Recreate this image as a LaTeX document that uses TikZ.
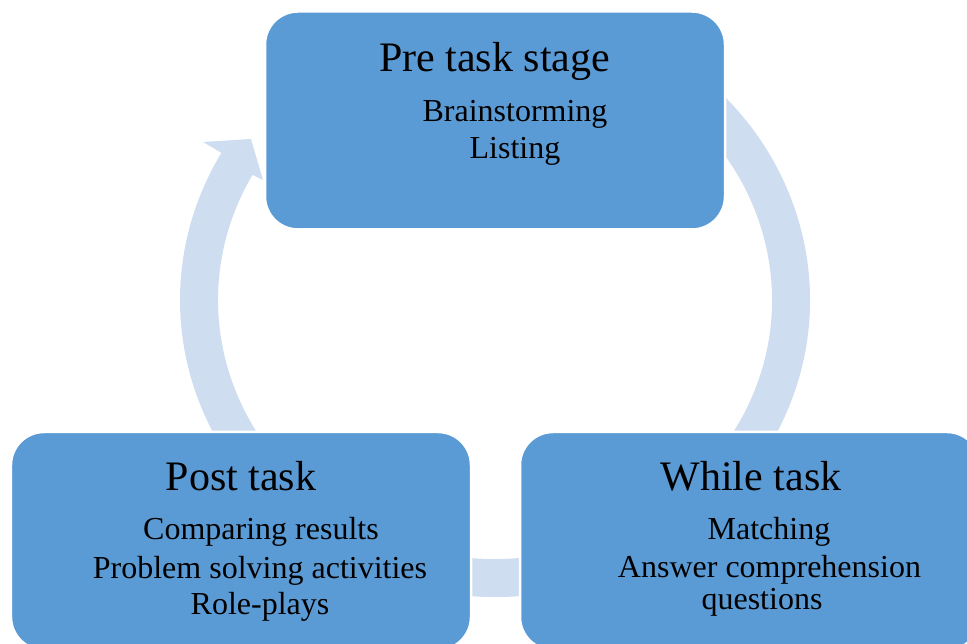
\documentclass[tikz,border=0pt]{standalone}
\usepackage{fontspec}
\setmainfont{Liberation Serif}
\definecolor{boxblue}{RGB}{91,155,213}
\definecolor{ringblue}{RGB}{206,221,239}
\begin{document}
\begin{tikzpicture}[x=1bp,y=1bp,
  stagebox/.style={draw=white,line width=2.5bp,fill=boxblue,rounded corners=33bp,
    minimum width=460bp,minimum height=218bp,inner sep=0pt},
  titletxt/.style={anchor=base,inner sep=0pt,font=\fontsize{42bp}{46bp}\selectfont},
  bodytxt/.style={anchor=base,inner sep=0pt,font=\fontsize{32bp}{36bp}\selectfont},
  ring/.style={fill=ringblue}]
\useasboundingbox (0,0) rectangle (967,644);
\clip (0,0) rectangle (967,644);
\coordinate (c) at (495,344);
% ring: right side and bottom
\fill[ring] ([shift={(c)}]60:315 and 297) arc(60:-120:315 and 297)
  -- ([shift={(c)}]-120:277 and 259) arc(-120:60:277 and 259) -- cycle;
% ring: left arrow with head
\coordinate (wingout) at (203,502);
\coordinate (tip) at (251,505);
\coordinate (wingin) at (263,464);
\fill[ring] ([shift={(c)}]215:277 and 259) -- ([shift={(c)}]215:315 and 297)
  arc(215:150.3:315 and 297) -- (wingout) -- (tip) -- (wingin)
  -- ([shift={(c)}]151.1:277 and 259) arc(151.1:215:277 and 259) -- cycle;
% boxes
\node[stagebox] (pre) at (495,523.5) {};
\node[stagebox] (post) at (241,103) {};
\node[stagebox] (while) at (750,103) {};
% texts
\node[titletxt] (pretitle) at (494.5,572) {Pre task stage};
\node[bodytxt] (pre1) at (515,522) {Brainstorming};
\node[bodytxt] (pre2) at (515,485) {Listing};
\node[titletxt] (posttitle) at (241,153) {Post task};
\node[bodytxt] (post1) at (261,104) {Comparing results};
\node[bodytxt] (post2) at (260,65) {Problem solving activities};
\node[bodytxt] (post3) at (260,29) {Role-plays};
\node[titletxt] (whiletitle) at (751,153) {While task};
\node[bodytxt] (while1) at (769,104) {Matching};
\node[bodytxt] (while2) at (769.5,66) {Answer comprehension};
\node[bodytxt] (while3) at (762,34) {questions};
\end{tikzpicture}
\end{document}
